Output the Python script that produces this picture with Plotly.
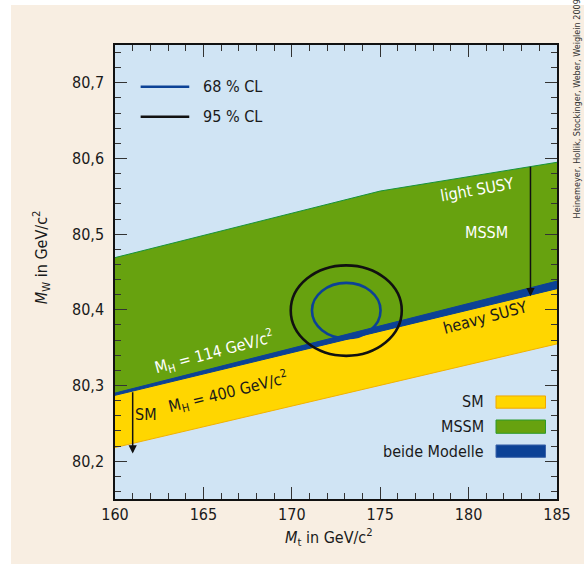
import plotly.graph_objects as go

# ---------------- data ----------------
mt_edges = [160, 185]                      # Mt range of the bands (GeV/c^2)
mssm_top_mt = [160, 175, 185]
mssm_top_mw = [80.469, 80.557, 80.595]     # upper edge of MSSM band (light SUSY)
mssm_low_mw = [80.287, 80.428]             # lower edge of MSSM band (heavy SUSY)
sm_up_mw = [80.290, 80.438]                # SM, M_H = 114 GeV
sm_low_mw = [80.218, 80.355]               # SM, M_H = 400 GeV

cl_center = [173.08, 80.399]               # experimental (Mt, MW)
cl68_half = [1.94, 0.0366]                 # half widths of 68 % CL ellipse
cl95_half = [3.14, 0.0598]                 # half widths of 95 % CL ellipse

sm_arrow_mt = 161.0
sm_arrow_mw = [80.293, 80.210]
susy_arrow_mt = 183.5
susy_arrow_mw = [80.591, 80.418]

x_ticks = [160, 165, 170, 175, 180, 185]
y_ticks = [80.2, 80.3, 80.4, 80.5, 80.6, 80.7]

# ---------------- style ----------------
FONT = "Liberation Sans Narrow, DejaVu Sans Condensed, Arial Narrow, sans-serif"
BEIGE = "#F8EEE2"
SKY = "#D0E4F4"
YELLOW = "#FFD600"
GREEN = "#67A20F"
BLUE = "#0C4296"
DARK = "#1a1a1a"

fig = go.Figure()

# SM band
fig.add_trace(go.Scatter(
    x=mt_edges + mt_edges[::-1], y=sm_low_mw + sm_up_mw[::-1],
    fill="toself", fillcolor=YELLOW, line=dict(width=0), mode="lines",
    hoverinfo="skip", showlegend=False))
fig.add_trace(go.Scatter(
    x=mt_edges, y=sm_low_mw, mode="lines",
    line=dict(color="#F2B200", width=1), hoverinfo="skip", showlegend=False))
# MSSM band
fig.add_trace(go.Scatter(
    x=mssm_top_mt + mt_edges[::-1], y=mssm_top_mw + mssm_low_mw[::-1],
    fill="toself", fillcolor=GREEN, line=dict(width=0), mode="lines",
    hoverinfo="skip", showlegend=False))
fig.add_trace(go.Scatter(
    x=mssm_top_mt, y=mssm_top_mw, mode="lines",
    line=dict(color="#17923C", width=1), hoverinfo="skip", showlegend=False))
# overlap band
fig.add_trace(go.Scatter(
    x=mt_edges + mt_edges[::-1], y=mssm_low_mw + sm_up_mw[::-1],
    fill="toself", fillcolor=BLUE, line=dict(color=BLUE, width=1), mode="lines",
    hoverinfo="skip", showlegend=False))

shapes = []
# white strips outside the beige panel
shapes.append(dict(type="rect", xref="paper", yref="paper", x0=-0.4, x1=-0.2353,
                   y0=-0.3, y1=1.3, fillcolor="white", line=dict(width=0), layer="below"))
shapes.append(dict(type="rect", xref="paper", yref="paper", x0=-0.4, x1=1.2,
                   y0=1.088, y1=1.3, fillcolor="white", line=dict(width=0), layer="below"))

# CL ellipses
for half, col in [(cl95_half, "#111111"), (cl68_half, BLUE)]:
    shapes.append(dict(type="circle", xref="x", yref="y",
                       x0=cl_center[0] - half[0], x1=cl_center[0] + half[0],
                       y0=cl_center[1] - half[1], y1=cl_center[1] + half[1],
                       line=dict(color=col, width=2.6), layer="above"))

# top-left legend lines
shapes.append(dict(type="line", xref="paper", yref="paper", x0=0.058, x1=0.168,
                   y0=0.908, y1=0.908, line=dict(color=BLUE, width=2.6)))
shapes.append(dict(type="line", xref="paper", yref="paper", x0=0.058, x1=0.168,
                   y0=0.842, y1=0.842, line=dict(color="#111111", width=2.6)))

# bottom-right legend swatches
sw = [(YELLOW, "#F0A800", 0.2000, 0.2270),
      (GREEN, "#2E9A2A", 0.1447, 0.1740),
      (BLUE, "#3A62AA", 0.0918, 0.1190)]
for fc, lc, y0, y1 in sw:
    shapes.append(dict(type="rect", xref="paper", yref="paper", x0=0.862, x1=0.974,
                       y0=y0, y1=y1, fillcolor=fc, line=dict(color=lc, width=1)))

ann = []
def txt(x, y, s, color=DARK, size=16, angle=0, xref="x", yref="y", xanchor="center",
        yanchor="middle"):
    ann.append(dict(x=x, y=y, xref=xref, yref=yref, text=s, showarrow=False,
                    textangle=angle, xanchor=xanchor, yanchor=yanchor,
                    font=dict(family=FONT, size=size, color=color)))

# legends text
txt(0.1946, 0.908, "68 % CL", xref="paper", yref="paper", xanchor="left")
txt(0.1946, 0.842, "95 % CL", xref="paper", yref="paper", xanchor="left")
txt(0.840, 0.2137, "SM", xref="paper", yref="paper", xanchor="right")
txt(0.840, 0.1586, "MSSM", xref="paper", yref="paper", xanchor="right")
txt(0.840, 0.1057, "beide Modelle", xref="paper", yref="paper", xanchor="right")

# in-plot labels
txt(161.75, 80.262, "SM")
txt(165.6, 80.344, "M<sub>H</sub> = 114 GeV/c<sup>2</sup>", color="white", angle=-15)
txt(166.4, 80.291, "M<sub>H</sub> = 400 GeV/c<sup>2</sup>", angle=-14)
txt(180.5, 80.559, "light SUSY", color="white", angle=-10)
txt(181.0, 80.502, "MSSM", color="white")
txt(180.93, 80.390, "heavy SUSY", angle=-15)

# axis titles
txt(0.484, -0.084, "<i>M</i><sub>t</sub> in GeV/c<sup>2</sup>", xref="paper", yref="paper")
txt(-0.167, 0.533, "<i>M</i><sub>W</sub> in GeV/c<sup>2</sup>", xref="paper", yref="paper",
    angle=-90)
# credit
txt(1.045, 0.6145, "Heinemeyer, Hollik, Stockinger, Weber, Weiglein 2009", size=9,
    color="#333333", xref="paper", yref="paper", angle=-90, yanchor="bottom")

# arrows
for mt, (a, b) in [(sm_arrow_mt, sm_arrow_mw), (susy_arrow_mt, susy_arrow_mw)]:
    ann.append(dict(x=mt, y=b, ax=mt, ay=a, xref="x", yref="y", axref="x", ayref="y",
                    text="", showarrow=True, arrowhead=2, arrowsize=1.1,
                    arrowwidth=1.5, arrowcolor="#111111"))

axis_common = dict(
    showline=True, linecolor="#111111", linewidth=1.5, mirror="allticks",
    ticks="inside", ticklen=12, tickwidth=1.3, tickcolor="#333333",
    showgrid=False, zeroline=False, automargin=False,
    tickfont=dict(family=FONT, size=16, color=DARK),
)

fig.update_layout(
    width=584, height=564,
    margin=dict(l=115, r=27, t=45, b=65),
    paper_bgcolor=BEIGE, plot_bgcolor=SKY,
    separators=",.",
    showlegend=False,
    shapes=shapes, annotations=ann,
    xaxis=dict(range=[160, 185], tickvals=x_ticks, ticktext=[str(v) for v in x_ticks],
               minor=dict(ticks="inside", ticklen=6, dtick=1, tickcolor="#333333",
                          tickwidth=1.2, showgrid=False),
               **axis_common),
    yaxis=dict(range=[80.15, 80.75], tickvals=y_ticks, tickformat=".1f",
               ticklabelstandoff=6,
               minor=dict(ticks="inside", ticklen=6, dtick=0.02, tick0=80.0,
                          tickcolor="#333333", tickwidth=1.2, showgrid=False),
               **axis_common),
)

fig.write_html(
    "out.html",
    config={"displayModeBar": False},
    post_script="document.body.style.margin='0';document.body.style.padding='0';"
                "document.documentElement.style.overflow='hidden';",
)
